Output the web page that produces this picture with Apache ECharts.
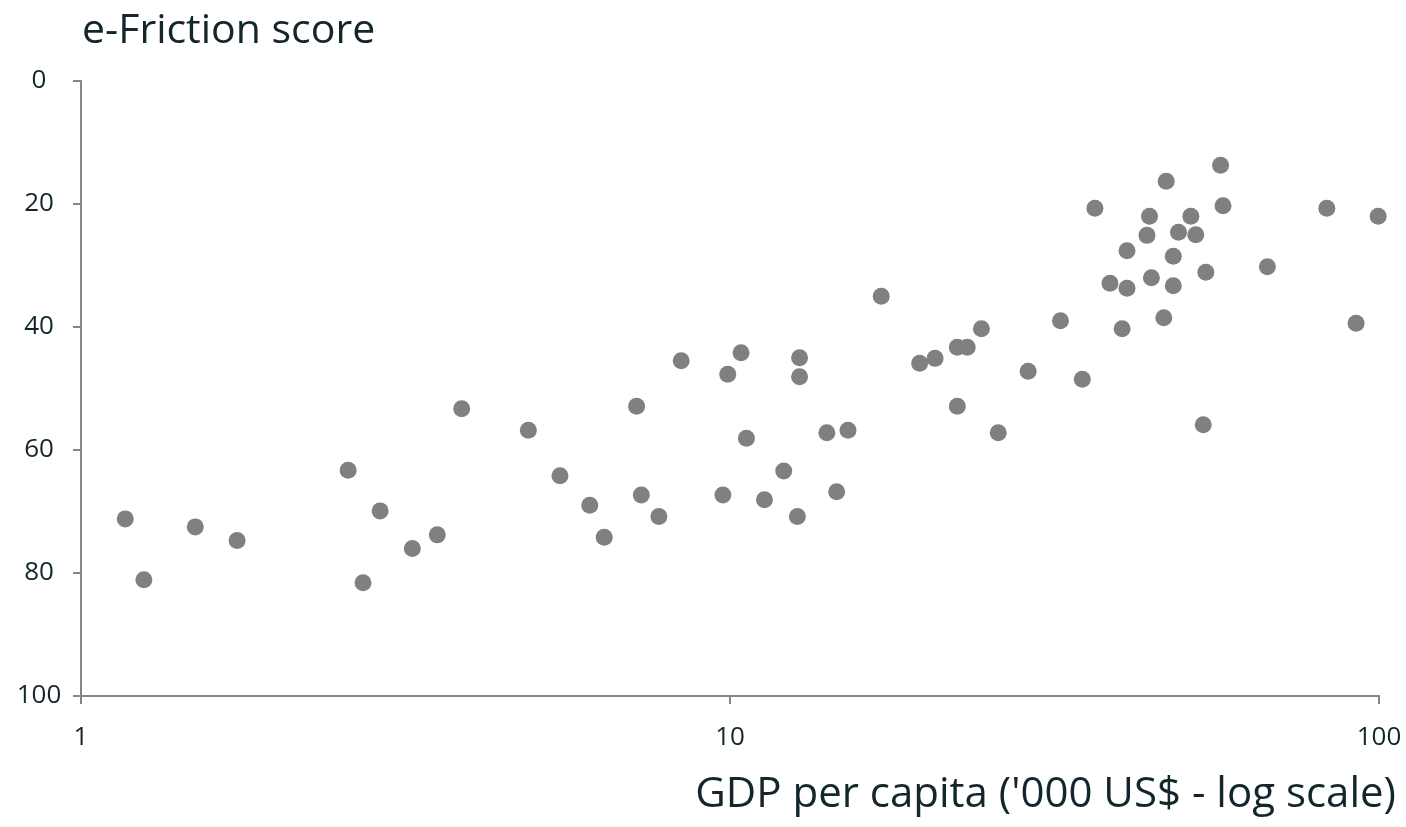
<!DOCTYPE html>
<html>
<head>
<meta charset="utf-8">
<script src="https://cdn.jsdelivr.net/npm/echarts@6/dist/echarts.min.js"></script>
<style>
  html, body { margin: 0; padding: 0; background: #ffffff; }
  #chart { width: 1406px; height: 827px; }
</style>
</head>
<body>
<div id="chart"></div>
<script>
const titleText = 'e-Friction score';
const xAxisName = "GDP per capita ('000 US$ - log scale)";
const gdpPerCapita = [1.17,1.25,1.50,1.74,2.58,2.72,2.89,3.24,3.54,3.86,4.89,5.47,6.08,6.40,7.18,7.30,7.77,8.41,9.75,9.92,10.4,10.6,11.3,12.1,12.7,12.8,12.8,14.1,14.6,15.2,17.1,19.6,20.7,22.4,23.2,24.4,22.4,25.9,28.8,32.3,34.9,36.5,38.5,40.2,40.9,40.9,44.3,43.9,44.6,46.6,47.0,48.2,48.2,49.1,51.3,52.2,54.1,57.0,57.5,67.3,83.1,99.7,92.2,53.6];
const frictionScore = [71.2,81.1,72.5,74.7,63.3,81.6,69.9,76.0,73.8,53.3,56.8,64.2,69.0,74.2,52.9,67.3,70.8,45.5,67.3,47.7,44.2,58.1,68.1,63.4,70.8,45.0,48.1,57.2,66.8,56.8,35.0,45.9,45.1,43.3,43.3,40.3,52.9,57.2,47.2,39.0,48.5,20.7,32.9,40.3,27.6,33.7,22.0,25.1,32.0,38.5,16.3,28.5,33.3,24.6,22.0,25.0,31.1,13.7,20.3,30.2,20.7,22.0,39.4,55.9];
const yTicks = [0, 20, 40, 60, 80, 100];
const xTicks = [1, 10, 100];

const textColor = '#13262b';
const axisColor = '#868686';
const fontFamily = '"Open Sans", "Noto Sans", sans-serif';

const points = gdpPerCapita.map((g, i) => [g, frictionScore[i]]);

const chart = echarts.init(document.getElementById('chart'), null, { renderer: 'canvas' });
chart.setOption({
  animation: false,
  backgroundColor: '#ffffff',
  title: {
    text: titleText,
    left: 77,
    top: 6,
    textStyle: { fontFamily: fontFamily, fontSize: 41, fontWeight: 'normal', color: textColor }
  },
  grid: { left: 81, right: 27, top: 81, bottom: 131, containLabel: false },
  xAxis: {
    type: 'log',
    logBase: 10,
    min: xTicks[0],
    max: xTicks[xTicks.length - 1],
    position: 'bottom',
    name: xAxisName,
    nameLocation: 'end',
    nameGap: 17,
    nameTextStyle: {
      fontFamily: fontFamily, fontSize: 42, color: textColor,
      align: 'right', verticalAlign: 'top', padding: [78, 0, 0, 0]
    },
    axisLine: { show: true, onZero: false, lineStyle: { color: axisColor, width: 2 } },
    axisTick: { show: true, length: 8, inside: false, lineStyle: { color: axisColor, width: 2 } },
    minorTick: { show: false },
    splitLine: { show: false },
    axisLabel: {
      fontFamily: fontFamily, fontSize: 26, color: textColor, margin: 29,
      formatter: v => String(v)
    }
  },
  yAxis: {
    type: 'value',
    inverse: true,
    min: yTicks[0],
    max: yTicks[yTicks.length - 1],
    interval: 20,
    axisLine: { show: true, onZero: false, lineStyle: { color: axisColor, width: 2 } },
    axisTick: { show: true, length: 8, inside: false, lineStyle: { color: axisColor, width: 2 } },
    splitLine: { show: false },
    axisLabel: {
      fontFamily: fontFamily, fontSize: 26, color: textColor, margin: 42, align: 'center'
    }
  },
  series: [{
    type: 'scatter',
    data: points,
    symbol: 'circle',
    symbolSize: 17,
    itemStyle: { color: '#808080', opacity: 1 }
  }]
});
</script>
</body>
</html>
